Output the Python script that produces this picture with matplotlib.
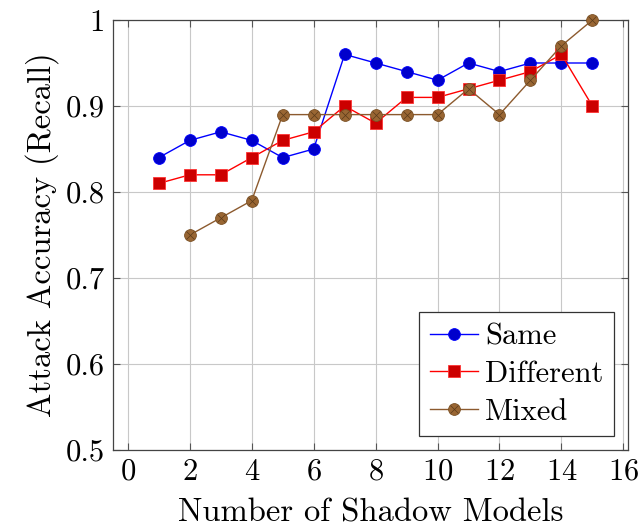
import matplotlib
matplotlib.use("Agg")
import matplotlib.pyplot as plt
from matplotlib.legend_handler import HandlerTuple

plt.rcParams['font.family'] = 'serif'
plt.rcParams['font.serif'] = ['cmr10']
plt.rcParams['mathtext.fontset'] = 'cm'
plt.rcParams['axes.formatter.use_mathtext'] = True

shadow_same = list(range(1, 16))
acc_same = [0.84, 0.86, 0.87, 0.86, 0.84, 0.85, 0.96, 0.95, 0.94, 0.93, 0.95, 0.94, 0.95, 0.95, 0.95]
shadow_diff = list(range(1, 16))
acc_diff = [0.81, 0.82, 0.82, 0.84, 0.86, 0.87, 0.90, 0.88, 0.91, 0.91, 0.92, 0.93, 0.94, 0.96, 0.90]
shadow_mixed = list(range(2, 16))
acc_mixed = [0.75, 0.77, 0.79, 0.89, 0.89, 0.89, 0.89, 0.89, 0.89, 0.92, 0.89, 0.93, 0.97, 1.00]

fig = plt.figure(figsize=(6.39, 5.29), dpi=100)
ax = fig.add_axes([0.1768, 0.1493, 0.806, 0.8129])

h1, = ax.plot(shadow_same, acc_same, color='#0000ff', lw=1, marker='o', ms=8.5,
              mfc='#0000cc', mec='#0000ff', mew=0.6, zorder=3, clip_on=False)
h2, = ax.plot(shadow_diff, acc_diff, color='#ff0000', lw=1, marker='s', ms=8.5,
              mfc='#cc0000', mec='#ff3333', mew=0.6, zorder=3, clip_on=False)
h3, = ax.plot(shadow_mixed, acc_mixed, color='#8c5a2e', lw=1, marker='o', ms=8.5,
              mfc='#996633', mec='#7a5024', mew=0.6, zorder=3, clip_on=False)
h3x, = ax.plot(shadow_mixed, acc_mixed, ls='none', marker='x', ms=5.5,
               mec='#5a3a1a', mew=0.5, zorder=4, clip_on=False)

ax.set_xlim(-0.48, 16.15)
ax.set_ylim(0.5, 1.0)
ax.set_xticks(range(0, 17, 2))
ax.set_yticks([0.5, 0.6, 0.7, 0.8, 0.9, 1.0])
ax.set_yticklabels(['0.5', '0.6', '0.7', '0.8', '0.9', '1'])
ax.grid(True, color='#c8c8c8', lw=0.8)
ax.set_axisbelow(True)
ax.tick_params(direction='in', length=5, width=0.8, color='#555555',
               top=True, right=True, labelsize=22, pad=6)
for s in ax.spines.values():
    s.set_color('#444444')
    s.set_linewidth(0.9)

ax.set_xlabel('Number of Shadow Models', fontsize=23.5, labelpad=9)
ax.set_ylabel('Attack Accuracy (Recall)', fontsize=23.5, labelpad=5)

leg = ax.legend([h1, h2, (h3, h3x)], ['Same', 'Different', 'Mixed'],
                handler_map={tuple: HandlerTuple(ndivide=1, pad=0)},
                loc='lower right', fontsize=22, fancybox=False, framealpha=1,
                edgecolor='#333333', handlelength=1.55, borderaxespad=0.45,
                labelspacing=0.33, handletextpad=0.25, borderpad=0.35)
leg.get_frame().set_linewidth(0.9)

fig.savefig('out.png', dpi=100)
